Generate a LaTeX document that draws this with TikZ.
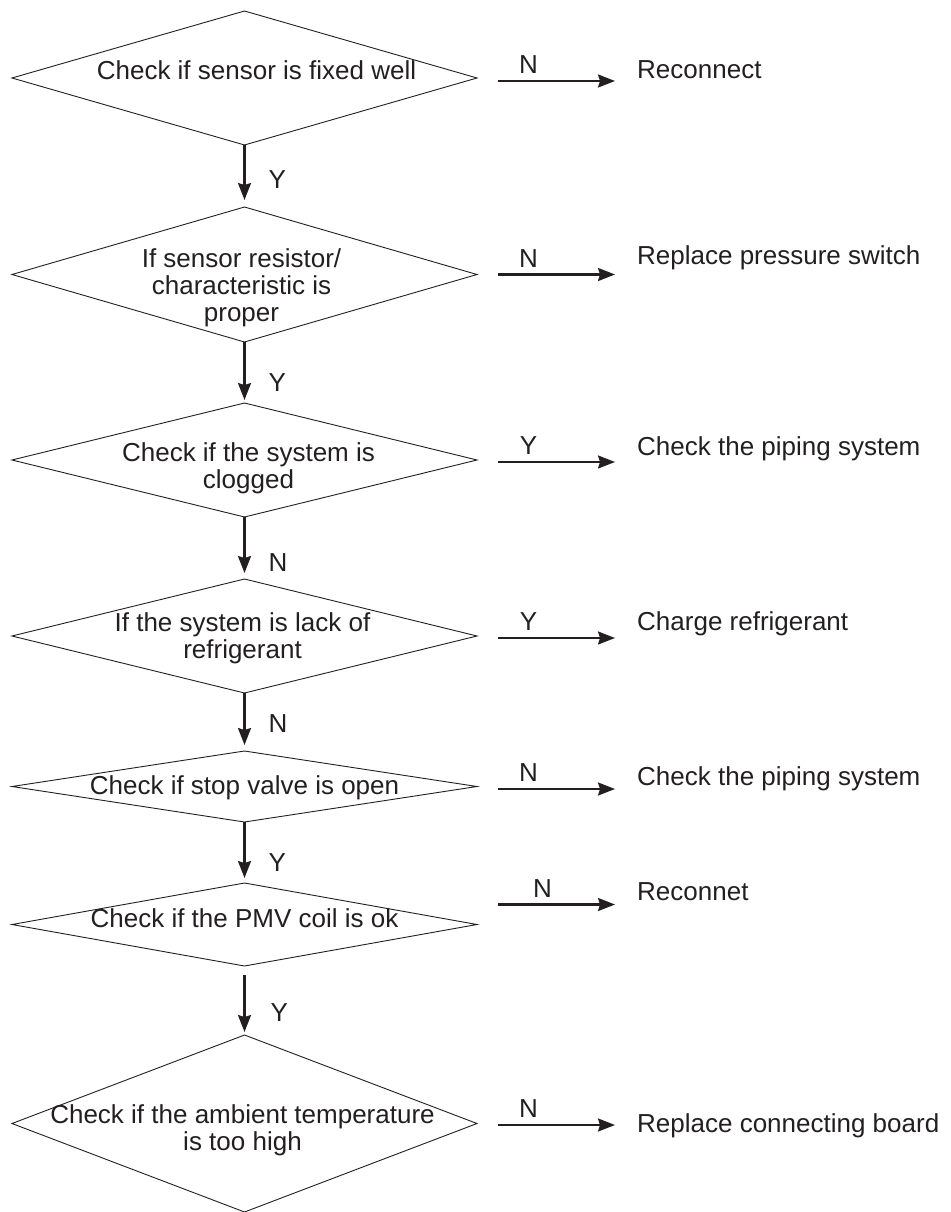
\documentclass[tikz,border=0pt]{standalone}
\usepackage{fontspec}
\setmainfont{Liberation Sans}
\usetikzlibrary{shapes.geometric,arrows.meta,positioning}
\definecolor{ink}{RGB}{35,31,32}
\tikzset{
  dec/.style={diamond, draw=ink, line width=0.9pt, inner sep=0pt, outer sep=0pt, minimum width=465pt},
  qtext/.style={align=center, font=\fontsize{26}{27}\selectfont, text=ink, inner sep=0pt},
  act/.style={anchor=west, font=\fontsize{26}{27}\selectfont, text=ink, inner sep=0pt, text height=19pt, text depth=5pt},
  yn/.style={font=\fontsize{26}{27}\selectfont, text=ink, inner sep=0pt},
  arr/.style={-{Stealth[length=17pt,width=13pt,inset=2pt]}, line width=2.2pt, draw=ink}
}
\begin{document}
\begin{tikzpicture}[x=1pt, y=-1pt]
\useasboundingbox (0,0) rectangle (950,1212);
% decisions
\node[dec, minimum height=134pt] (d1) at (244.5,78) {};
\node[dec, minimum height=135pt, below=62pt of d1] (d2) {};
\node[dec, minimum height=114pt, below=61pt of d2] (d3) {};
\node[dec, minimum height=114pt, below=62pt of d3] (d4) {};
\node[dec, minimum height=71pt, below=58pt of d4] (d5) {};
\node[dec, minimum height=83pt, below=61pt of d5] (d6) {};
\node[dec, minimum height=177pt, below=69pt of d6] (d7) {};

\node[qtext, xshift=12pt, yshift=8pt] (t1) at (d1) {Check if sensor is fixed well};
\node[qtext, xshift=-3pt, yshift=-13.5pt] (t2) at (d2) {If sensor resistor/\\characteristic is\\proper};
\node[qtext, xshift=4pt, yshift=-8.5pt] (t3) at (d3) {Check if the system is\\clogged};
\node[qtext, xshift=-2pt, yshift=-2.5pt] (t4) at (d4) {If the system is lack of\\refrigerant};
\node[qtext, yshift=-1.5pt] (t5) at (d5) {Check if stop valve is open};
\node[qtext, yshift=6.5pt] (t6) at (d6) {Check if the PMV coil is ok};
\node[qtext, xshift=-2pt, yshift=-6.5pt] (t7) at (d7) {Check if the ambient temperature\\is too high};

% actions
\node[act] (r1) at (637,72) {Reconnect};
\node[act] (r2) at (637,257) {Replace pressure switch};
\node[act] (r3) at (637,448) {Check the piping system};
\node[act] (r4) at (637,623) {Charge refrigerant};
\node[act] (r5) at (637,778) {Check the piping system};
\node[act] (r6) at (637,893) {Reconnet};
\node[act] (r7) at (637,1125) {Replace connecting board};

% main line
\draw[arr, shorten >=7pt] (d1) -- (d2) node[yn, pos=.56, anchor=west, xshift=23pt] (v1) {Y};
\draw[arr, shorten >=3pt] (d2) -- (d3) node[yn, pos=.66, anchor=west, xshift=23pt] (v2) {Y};
\draw[arr, shorten >=6pt] (d3) -- (d4) node[yn, pos=.73, anchor=west, xshift=23pt] (v3) {N};
\draw[arr, shorten >=6pt] (d4) -- (d5) node[yn, pos=.52, anchor=west, xshift=23pt] (v4) {N};
\draw[arr, shorten >=5pt] (d5) -- (d6) node[yn, pos=.66, anchor=west, xshift=23pt] (v5) {Y};
\draw[arr, shorten <=9pt, shorten >=3pt] (d6) -- (d7) node[yn, pos=.68, anchor=west, xshift=25pt] (v6) {Y};

% branches
\coordinate (a1) at ([xshift=21pt,yshift=-3pt]d1.east);
\coordinate (a2) at ([xshift=21pt]d2.east);
\coordinate (a3) at ([xshift=21pt,yshift=-2pt]d3.east);
\coordinate (a4) at ([xshift=21pt,yshift=-2pt]d4.east);
\coordinate (a5) at ([xshift=21pt,yshift=-2.5pt]d5.east);
\coordinate (a6) at ([xshift=21pt,yshift=20pt]d6.east);
\coordinate (a7) at ([xshift=21pt,yshift=-1.5pt]d7.east);
\draw[arr, shorten >=22pt] (a1) -- (a1 -| r1.west) node[yn, pos=.22, above=6pt] (h1) {N};
\draw[arr, shorten >=22pt] (a2) -- (a2 -| r2.west) node[yn, pos=.22, above=6pt] (h2) {N};
\draw[arr, shorten >=22pt] (a3) -- (a3 -| r3.west) node[yn, pos=.22, above=6pt] (h3) {Y};
\draw[arr, shorten >=22pt] (a4) -- (a4 -| r4.west) node[yn, pos=.22, above=6pt] (h4) {Y};
\draw[arr, shorten >=22pt] (a5) -- (a5 -| r5.west) node[yn, pos=.22, above=6pt] (h5) {N};
\draw[arr, shorten >=22pt] (a6) -- (a6 -| r6.west) node[yn, pos=.32, above=6pt] (h6) {N};
\draw[arr, shorten >=22pt] (a7) -- (a7 -| r7.west) node[yn, pos=.22, above=6pt] (h7) {N};
\end{tikzpicture}
\end{document}
